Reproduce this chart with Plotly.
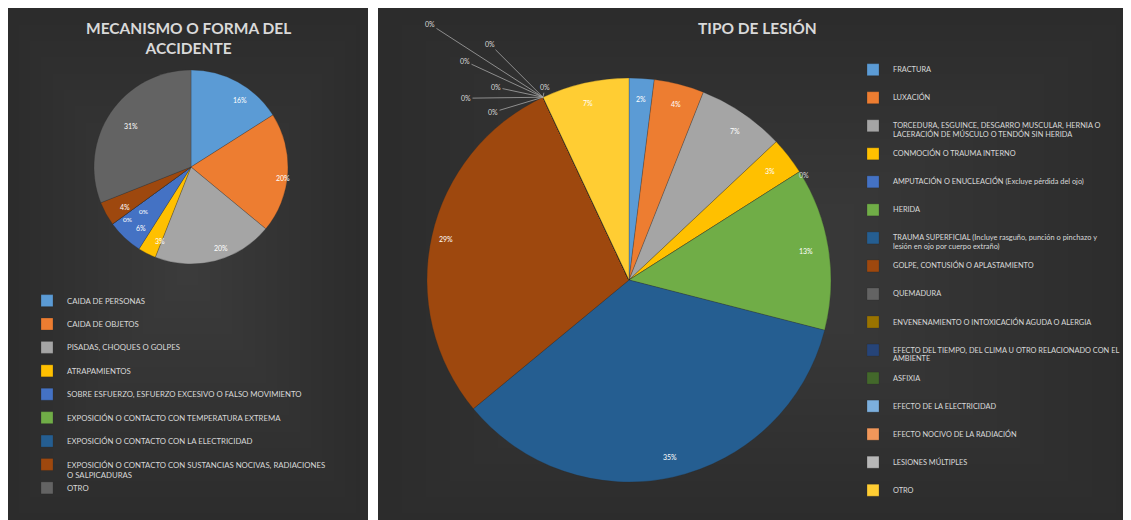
import math
import textwrap
import plotly.graph_objects as go

# page body has an 8px margin; the figure is sized to fit the window exactly
OFF = 8
W, H = 1131 - OFF, 520 - OFF

# ---------------- data ----------------
mec_title = "MECANISMO O FORMA DEL<br>ACCIDENTE"
mec_categories = [
    "CAIDA DE PERSONAS",
    "CAIDA DE OBJETOS",
    "PISADAS, CHOQUES O GOLPES",
    "ATRAPAMIENTOS",
    "SOBRE ESFUERZO, ESFUERZO EXCESIVO O FALSO MOVIMIENTO",
    "EXPOSICIÓN O CONTACTO CON TEMPERATURA EXTREMA",
    "EXPOSICIÓN O CONTACTO CON LA ELECTRICIDAD",
    "EXPOSICIÓN O CONTACTO CON SUSTANCIAS NOCIVAS, RADIACIONES O SALPICADURAS",
    "OTRO",
]
mec_values = [16, 20, 20, 3, 6, 0, 0, 4, 31]
mec_colors = ["#5B9BD5", "#ED7D31", "#A5A5A5", "#FFC000", "#4472C4",
              "#70AD47", "#255E91", "#9E480E", "#636363"]

les_title = "TIPO DE LESIÓN"
les_categories = [
    "FRACTURA",
    "LUXACIÓN",
    "TORCEDURA, ESGUINCE, DESGARRO MUSCULAR, HERNIA O LACERACIÓN DE MÚSCULO O TENDÓN SIN HERIDA",
    "CONMOCIÓN O TRAUMA INTERNO",
    "AMPUTACIÓN O ENUCLEACIÓN (Excluye pérdida del ojo)",
    "HERIDA",
    "TRAUMA SUPERFICIAL (Incluye rasguño, punción o pinchazo y lesión en ojo por cuerpo extraño)",
    "GOLPE, CONTUSIÓN O APLASTAMIENTO",
    "QUEMADURA",
    "ENVENENAMIENTO O INTOXICACIÓN AGUDA O ALERGIA",
    "EFECTO DEL TIEMPO, DEL CLIMA U OTRO RELACIONADO CON EL AMBIENTE",
    "ASFIXIA",
    "EFECTO DE LA ELECTRICIDAD",
    "EFECTO NOCIVO DE LA RADIACIÓN",
    "LESIONES MÚLTIPLES",
    "OTRO",
]
les_values = [2, 4, 7, 3, 0, 13, 35, 29, 0, 0, 0, 0, 0, 0, 0, 7]
les_colors = ["#5B9BD5", "#ED7D31", "#A5A5A5", "#FFC000", "#4472C4", "#70AD47",
              "#255E91", "#9E480E", "#636363", "#997300", "#264478", "#43682B",
              "#7CAFDD", "#F1975A", "#B7B7B7", "#FFCD33"]

# ---------------- helpers ----------------
FONT = "Lato, 'Open Sans', sans-serif"


def legend_label(text, width, total_lines, size):
    lines = textwrap.wrap(text, width)
    body = "<br>".join(lines)
    pad = max(total_lines - len(lines), 0)
    return f"<span style='font-size:{size}px'>{body}</span>" + "<br> " * pad


def px(x):
    return (x - OFF) / W


def py(y):
    return 1 - (y - OFF) / H


# pie geometry (reference pixels)
L_CX, L_CY, L_R = 191, 167, 97
R_CX, R_CY, R_R = 629, 280, 202


def dom(cx, cy, r):
    return dict(x=[px(cx - r), px(cx + r)], y=[py(cy + r), py(cy - r)])


fig = go.Figure()

fig.add_trace(go.Pie(
    labels=[legend_label(c, 58, 2, 7.8) for c in mec_categories],
    values=mec_values,
    sort=False, direction="clockwise", rotation=0,
    marker=dict(colors=mec_colors, line=dict(color="rgba(40,40,40,0.5)", width=0.5)),
    textinfo="none",
    domain=dom(L_CX, L_CY, L_R),
    legend="legend",
    hoverinfo="label+percent",
))

fig.add_trace(go.Pie(
    labels=[legend_label(c, 58, 3, 7.4) for c in les_categories],
    values=les_values,
    sort=False, direction="clockwise", rotation=0,
    marker=dict(colors=les_colors, line=dict(color="rgba(40,40,40,0.5)", width=0.5)),
    textinfo="none",
    domain=dom(R_CX, R_CY, R_R),
    legend="legend2",
    hoverinfo="label+percent",
))

# ---------------- backgrounds (radial-ish gradient panels) ----------------
shapes = []


def panel(x0, y0, x1, y1, steps=16):
    shapes.append(dict(type="rect", xref="paper", yref="paper", layer="below",
                       x0=px(x0), x1=px(x1), y0=py(y1), y1=py(y0),
                       fillcolor="#2c2c2c", line=dict(width=0)))
    cx, cy = (x0 + x1) / 2, (y0 + y1) / 2
    for i in range(1, steps):
        f = 1 - i / steps
        hw, hh = (x1 - x0) / 2 * f, (y1 - y0) / 2 * f
        shapes.append(dict(type="rect", xref="paper", yref="paper", layer="below",
                           x0=px(cx - hw), x1=px(cx + hw),
                           y0=py(cy + hh), y1=py(cy - hh),
                           fillcolor="rgba(255,255,255,0.0085)", line=dict(width=0)))


panel(7, 8, 368, 530)
panel(378, 8, 1140, 530)

annotations = []


def angle_point(cx, cy, r, frac, cum_share):
    th = 2 * math.pi * cum_share
    return px(cx + r * frac * math.sin(th)), py(cy - r * frac * math.cos(th))


def slice_labels(values, cx, cy, r, frac):
    total = sum(values)
    cum = 0
    for v in values:
        if v > 0:
            x, y = angle_point(cx, cy, r, frac, (cum + v / 2) / total)
            annotations.append(dict(x=x, y=y, xref="paper", yref="paper",
                                    text=f"{round(100 * v / total)}%", showarrow=False,
                                    font=dict(size=7, color="#ffffff", family=FONT)))
        cum += v


slice_labels(mec_values, L_CX, L_CY, L_R, 0.86)
slice_labels(les_values, R_CX, R_CY, R_R, 0.93)

# ---------------- zero-value labels ----------------
def zero_share(values, idx):
    return sum(values[:idx]) / sum(values)


zero_offsets_right = {8: (-113, -73), 9: (-53, -53), 10: (-78, -36), 11: (-47, -10),
                      12: (-77, 1), 13: (-50, 15), 14: (2, -10)}
for idx, (ax, ay) in zero_offsets_right.items():
    x, y = angle_point(R_CX, R_CY, R_R, 1.0, zero_share(les_values, idx))
    annotations.append(dict(x=x, y=y, xref="paper", yref="paper", text="0%",
                            showarrow=True, arrowhead=0, arrowwidth=0.8,
                            arrowcolor="#a6a6a6", ax=ax, ay=ay,
                            font=dict(size=7, color="#d9d9d9", family=FONT)))
x, y = angle_point(R_CX, R_CY, R_R, 1.0, zero_share(les_values, 4))
annotations.append(dict(x=x, y=y, xref="paper", yref="paper", text="0%", showarrow=False,
                        xshift=11, yshift=3, font=dict(size=7, color="#d9d9d9", family=FONT)))
for idx, (xs, ys) in zip([5, 6], [(-7, -7), (9, 1)]):
    x, y = angle_point(L_CX, L_CY, L_R, 0.8, zero_share(mec_values, idx))
    annotations.append(dict(x=x, y=y, xref="paper", yref="paper", text="0%", showarrow=False,
                            xshift=xs, yshift=ys,
                            font=dict(size=6.5, color="#ffffff", family=FONT)))

# titles
annotations.append(dict(x=px(188), y=py(38), xref="paper", yref="paper",
                        xanchor="center", yanchor="middle",
                        text=f"<b>{mec_title}</b>", showarrow=False,
                        font=dict(size=15.5, color="#d9d9d9", family=FONT)))
annotations.append(dict(x=px(757), y=py(28), xref="paper", yref="paper",
                        xanchor="center", yanchor="middle",
                        text=f"<b>{les_title}</b>", showarrow=False,
                        font=dict(size=15.5, color="#d9d9d9", family=FONT)))

fig.update_layout(
    width=W, height=H,
    margin=dict(l=0, r=0, t=0, b=0),
    paper_bgcolor="#ffffff",
    plot_bgcolor="#ffffff",
    shapes=shapes,
    annotations=annotations,
    showlegend=True,
    legend=dict(x=px(27), y=py(289), xanchor="left", yanchor="top",
                bgcolor="rgba(0,0,0,0)", valign="top",
                font=dict(size=7.85, color="#d9d9d9", family=FONT)),
    legend2=dict(x=px(853), y=py(59), xanchor="left", yanchor="top",
                 bgcolor="rgba(0,0,0,0)", valign="top",
                 font=dict(size=6.42, color="#d9d9d9", family=FONT)),
)

fig.write_html("out.html")
